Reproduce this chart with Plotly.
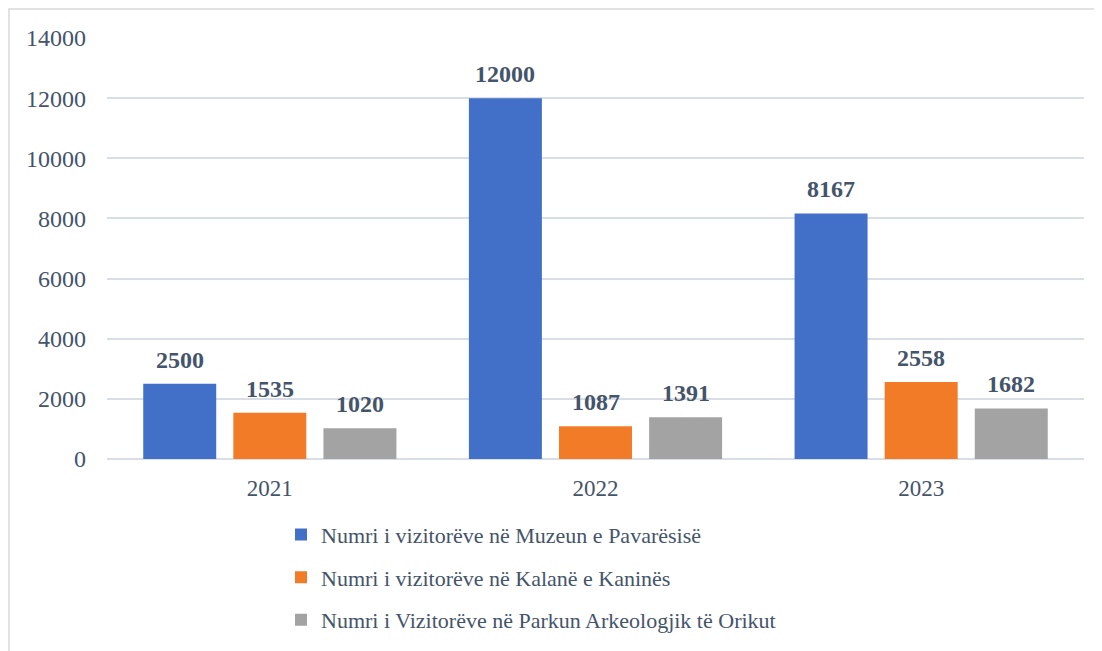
import plotly.graph_objects as go

years = ["2021", "2022", "2023"]
series_names = [
    "Numri i vizitorëve në Muzeun e Pavarësisë",
    "Numri i vizitorëve në Kalanë e Kaninës",
    "Numri i Vizitorëve në Parkun Arkeologjik të Orikut",
]
muzeu = [2500, 12000, 8167]
kalaja = [1535, 1087, 2558]
parku = [1020, 1391, 1682]
colors = ["#4270C8", "#F27B28", "#A3A3A3"]

FONT = "Liberation Serif, Times New Roman, serif"
TXT = "#44546A"
W, H = 1102, 651
L, R, T, B = 99, 26, 30, 200
BARGAP = 0.17

pw = W - L - R
ph = H - T - B
slot = pw / len(years) * (1 - BARGAP) / 3

fig = go.Figure()
annotations = []
for i, (name, vals, c) in enumerate(zip(series_names, [muzeu, kalaja, parku], colors)):
    fig.add_trace(go.Bar(
        x=years, y=vals, name=name, legendgroup=f"g{i}",
        marker=dict(color=c, line=dict(width=0)),
        cliponaxis=False,
    ))
    for j, v in enumerate(vals):
        annotations.append(dict(
            x=j, y=v, xref="x", yref="y", text=str(v), showarrow=False,
            xanchor="center", yanchor="bottom", xshift=(i - 1) * slot, yshift=9,
            font=dict(family=FONT, size=24, color=TXT, weight="bold"),
        ))

fig.update_layout(
    width=W, height=H,
    margin=dict(l=L, r=R, t=T, b=B),
    paper_bgcolor="white", plot_bgcolor="white",
    barmode="group", bargap=BARGAP, bargroupgap=0.19,
    font=dict(family=FONT, size=22, color=TXT),
    showlegend=True,
    legend=dict(
        orientation="v", x=(273 - L) / pw, y=-0.13,
        xanchor="left", yanchor="top",
        font=dict(family=FONT, size=22, color=TXT),
        tracegroupgap=11, itemwidth=30,
    ),
    xaxis=dict(type="category", range=[-0.5, len(years) - 0.5],
               showgrid=False, showline=False, ticks="",
               tickfont=dict(family=FONT, size=23, color=TXT),
               ticklabelstandoff=13),
    yaxis=dict(range=[0, 14000], dtick=2000, tickformat="d",
               showgrid=True, gridcolor="#D9DEE6",
               gridwidth=1.5, zeroline=True, zerolinecolor="#D9DEE6", zerolinewidth=1.5,
               showline=False, ticks="", tickfont=dict(family=FONT, size=24, color=TXT),
               ticklabelstandoff=20),
    annotations=annotations,
    shapes=[dict(type="rect", xref="paper", yref="paper",
                 x0=(1 - L) / pw, x1=(1093 - L) / pw,
                 y0=(H - B - 660) / ph, y1=(H - B - 1) / ph,
                 line=dict(color="#D9D9D9", width=1.5), layer="below")],
)

fig.write_html("out.html")
